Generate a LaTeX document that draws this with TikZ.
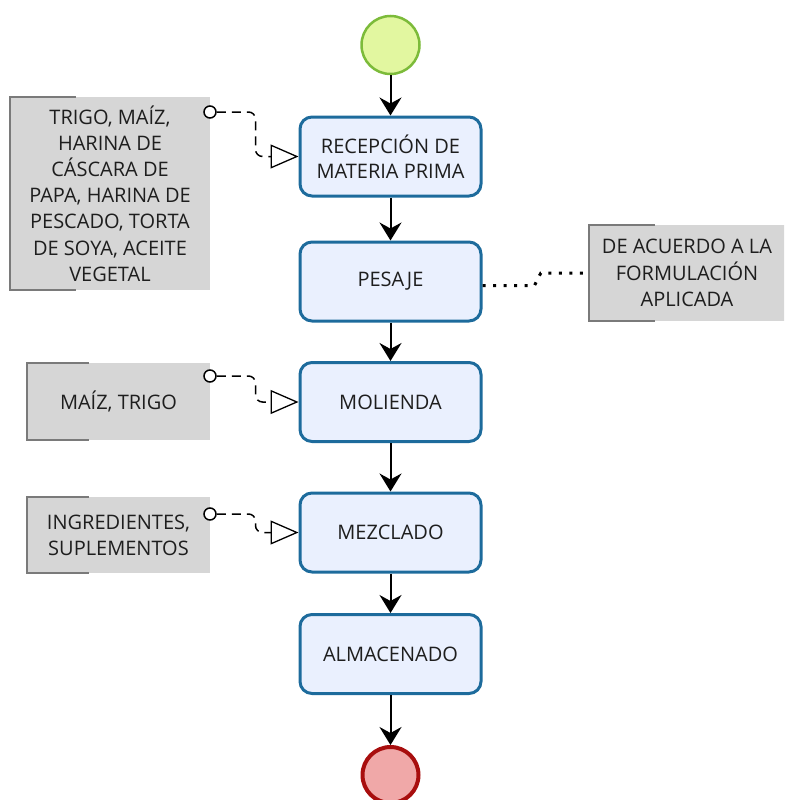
\documentclass[tikz,border=0pt]{standalone}
\usepackage{fontspec}
\setmainfont{Open Sans}
\usetikzlibrary{arrows.meta,calc}
\definecolor{taskfill}{HTML}{EAF0FE}
\definecolor{taskdraw}{HTML}{1D6B9C}
\definecolor{startfill}{HTML}{E2F7A0}
\definecolor{startdraw}{HTML}{7CBB3A}
\definecolor{endfill}{HTML}{F0A8A8}
\definecolor{enddraw}{HTML}{A80E0E}
\definecolor{datafill}{HTML}{D6D6D6}
\definecolor{databrk}{HTML}{7A7A7A}
\definecolor{txt}{HTML}{1E1E1E}
\begin{document}
\begin{tikzpicture}[x=1pt,y=-1pt,
  task/.style={draw=taskdraw,fill=taskfill,line width=3pt,rounded corners=12pt,
    minimum width=181pt,minimum height=79pt,align=center,text=txt,font=\fontsize{20}{25}\selectfont,inner sep=0pt},
  datab/.style={fill=datafill,align=center,text=txt,font=\fontsize{20}{26.2}\selectfont,inner sep=0pt},
  brk/.style={draw=databrk,line width=1.5pt},
  seq/.style={line width=2pt,-{Stealth[length=18pt,width=22pt,inset=6pt]}},
  assoc/.style={line width=1.5pt,dash pattern=on 9pt off 6pt,rounded corners=7pt,
    -{Triangle[open,length=28pt,width=24pt,line width=1.3pt,fill=white]}},
  dotl/.style={line width=3pt,dash pattern=on 3pt off 7.5pt},
  port/.style={circle,draw=black,fill=white,line width=1.5pt,minimum size=12pt,inner sep=0pt}
]
\useasboundingbox (0,0) rectangle (784,800);
\begin{scope}
\clip (0,0) rectangle (784,800);
% start / end
\node[circle,draw=startdraw,fill=startfill,line width=2.5pt,minimum size=58pt,inner sep=0pt] (start) at (390.5,45) {};
\node[circle,draw=enddraw,fill=endfill,line width=4pt,minimum size=56pt,inner sep=0pt] (end) at (390.5,775) {};
% tasks
\node[task] (t1) at (390.5,156.5) {RECEPCIÓN DE\\MATERIA PRIMA};
\node[task] (t2) at (390.5,281.5) {PESAJE};
\node[task] (t3) at (390.5,402) {MOLIENDA};
\node[task] (t4) at (390.5,532.5) {MEZCLADO};
\node[task] (t5) at (390.5,654) {ALMACENADO};
% sequence flows
\draw[seq] (start) -- (t1);
\draw[seq] (t1) -- (t2);
\draw[seq] (t2) -- (t3);
\draw[seq] (t3) -- (t4);
\draw[seq] (t4) -- (t5);
\draw[seq] (t5) -- (end);
% data boxes
\node[datab,minimum width=200pt,minimum height=193pt] (d1) at (110,193.5) {TRIGO, MAÍZ,\\HARINA DE\\CÁSCARA DE\\PAPA, HARINA DE\\PESCADO, TORTA\\DE SOYA, ACEITE\\VEGETAL};
\node[datab,minimum width=196pt,minimum height=96pt] (d2) at (687,273) {DE ACUERDO A LA\\FORMULACIÓN\\APLICADA};
\node[datab,minimum width=183pt,minimum height=77pt] (d3) at (118.5,401.5) {MAÍZ, TRIGO};
\node[datab,minimum width=183pt,minimum height=76pt] (d4) at (118.5,535) {INGREDIENTES,\\SUPLEMENTOS};
\draw[brk] ($(d1.north west)+(66,0)$) -| (d1.south west) -- ++(66,0);
\draw[brk] ($(d2.north west)+(66,0)$) -| (d2.south west) -- ++(66,0);
\draw[brk] ($(d3.north west)+(62,0)$) -| (d3.south west) -- ++(62,0);
\draw[brk] ($(d4.north west)+(62,0)$) -| (d4.south west) -- ++(62,0);
% ports
\node[port] (c1) at (210,112) {};
\node[port] (c3) at (210,376) {};
\node[port] (c4) at (210,514) {};
% associations
\draw[assoc] (c1.east) -| ($(t1.west)+(-43,0)$) -- (t1.west);
\draw[assoc] (c3.east) -| ($(t3.west)+(-43,0)$) -- (t3.west);
\draw[assoc] (c4.east) -| ($(t4.west)+(-43,0)$) -- (t4.west);
\draw[dotl] ($(t2.east)+(0,4)$) -- ($(t2.east)+(52,4)$) -- ($(d2.west)+(-48,0)$) -- (d2.west);
\end{scope}
\end{tikzpicture}
\end{document}
